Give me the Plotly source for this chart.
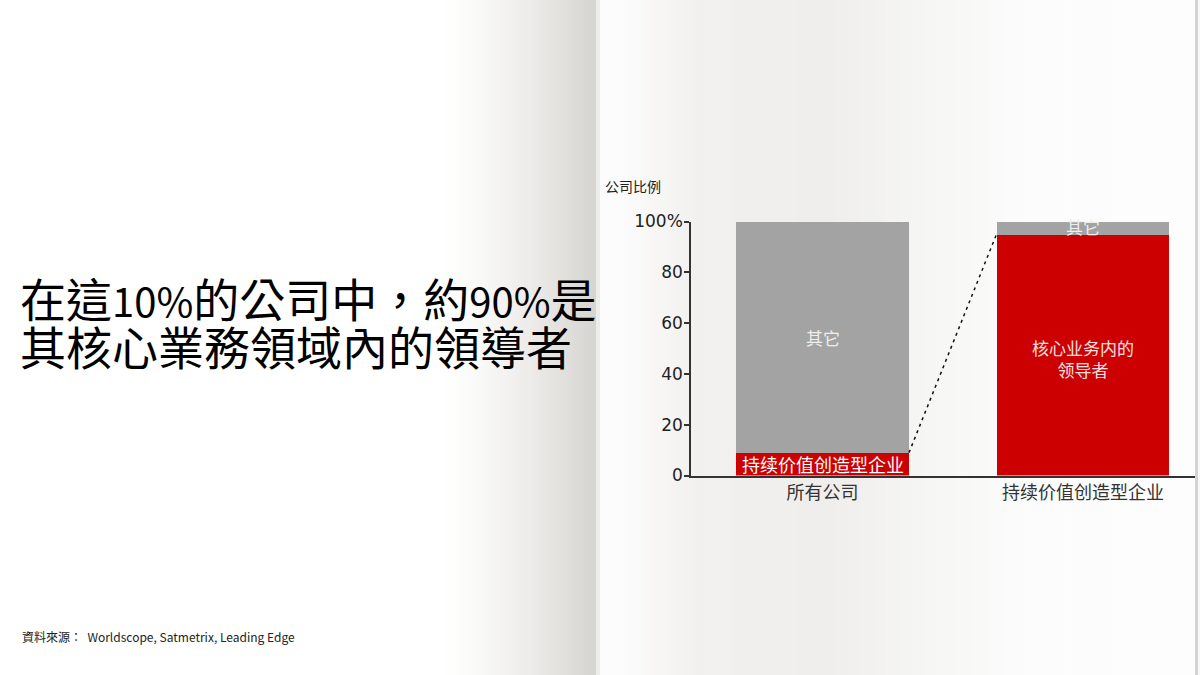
import plotly.graph_objects as go

# ---- data ----
categories = ["所有公司", "持续价值创造型企业"]
leaders = [9, 95]          # 红色部分（持续价值创造型企业 / 核心业务内的领导者）
others = [91, 5]           # 灰色部分（其它）
red_labels = ["持续价值创造型企业", "核心业务内的<br>领导者"]
gray_labels = ["其它", "其它"]
y_ticks = [0, 20, 40, 60, 80, 100]
y_ticktext = ["0", "20", "40", "60", "80", "100%"]

RED = "#cc0000"
GRAY = "#a3a3a3"
BAR_W = 0.664
x_pos = list(range(len(categories)))

W, H = 1200, 675
fig = go.Figure()

fig.add_trace(go.Bar(x=x_pos, y=leaders, width=BAR_W, marker=dict(color=RED, line=dict(width=0)),
                     hoverinfo="skip", showlegend=False))
fig.add_trace(go.Bar(x=x_pos, y=others, width=BAR_W, marker=dict(color=GRAY, line=dict(width=0)),
                     hoverinfo="skip", showlegend=False))

# dashed connector from top of red segment of bar 1 to top of red segment of bar 2
fig.add_trace(go.Scatter(x=[x_pos[0] + BAR_W / 2, x_pos[1] - BAR_W / 2], y=[leaders[0], leaders[1]],
                         mode="lines", line=dict(color="#111111", width=1.5, dash="3px,4px"),
                         hoverinfo="skip", showlegend=False))

# ---- background (book page shading) ----
shapes = []
def lerp(a, b, t):
    return tuple(int(round(a[i] + (b[i] - a[i]) * t)) for i in range(3))

def strip(x0, x1, c):
    shapes.append(dict(type="rect", xref="paper", yref="paper", x0=x0 / W, x1=x1 / W, y0=-0.05, y1=1.05,
                       fillcolor="rgb(%d,%d,%d)" % c, line=dict(width=0), layer="below"))

# left page: white then darken toward fold
start, fold = 440, 596
n = 52
for i in range(n):
    x0 = start + (fold - start) * i / n
    x1 = start + (fold - start) * (i + 1) / n + 0.5
    t = (i + 0.5) / n
    c = lerp((255, 255, 255), (214, 212, 208), t ** 1.4)
    strip(x0, x1, c)

# right page
strip(596, 600, (236, 236, 234))
strip(600, 618, (252, 252, 252))
stops = [(618, (252, 252, 252)), (700, (241, 240, 238)), (830, (239, 238, 236)),
         (930, (246, 246, 245)), (1030, (252, 252, 252)), (1195, (253, 253, 253))]
for k in range(len(stops) - 1):
    xa, ca = stops[k]
    xb, cb = stops[k + 1]
    m = 16
    for j in range(m):
        x0 = xa + (xb - xa) * j / m
        x1 = xa + (xb - xa) * (j + 1) / m + 0.5
        strip(x0, x1, lerp(ca, cb, (j + 0.5) / m))
strip(1195, 1198, (212, 212, 210))
strip(1198, 1200, (248, 248, 248))

# ---- annotations ----
CJK = "Noto Sans CJK SC"
ann = []
ann.append(dict(x=x_pos[0], y=leaders[0] / 2, text=red_labels[0], showarrow=False,
                font=dict(family=CJK, size=18, color="#ffffff")))
ann.append(dict(x=x_pos[0], y=leaders[0] + others[0] / 2, text=gray_labels[0], showarrow=False,
                font=dict(family=CJK, size=17, color="#eeeeee")))
ann.append(dict(x=x_pos[1], y=leaders[1] / 2 - 1.5, text=red_labels[1], showarrow=False,
                font=dict(family=CJK, size=17, color="#f6e0e0")))
ann.append(dict(x=x_pos[1], y=leaders[1] + others[1] / 2 + 0.6, text=gray_labels[1], showarrow=False,
                font=dict(family=CJK, size=17, color="#eeeeee")))

ann.append(dict(xref="paper", yref="paper", x=603 / W, y=1 - 186 / H, xanchor="left", yanchor="middle",
                text="公司比例", showarrow=False,
                font=dict(family=CJK, size=14, color="#222222")))

DIG = "font-size:40px"
ann.append(dict(xref="paper", yref="paper", x=18 / W, y=1 - 297 / H, xanchor="left", yanchor="middle",
                text="在這<span style=\"%s\">10%%</span>的公司中，約<span style=\"%s\">90%%</span>是" % (DIG, DIG),
                showarrow=False,
                font=dict(family="Noto Sans CJK TC", size=46, color="#000000")))
ann.append(dict(xref="paper", yref="paper", x=18 / W, y=1 - 345 / H, xanchor="left", yanchor="middle",
                text="其核心業務領域內的領導者", showarrow=False,
                font=dict(family="Noto Sans CJK TC", size=46, color="#000000")))

ann.append(dict(xref="paper", yref="paper", x=20 / W, y=1 - 636 / H, xanchor="left", yanchor="middle",
                text="資料來源：  Worldscope, Satmetrix, Leading Edge", showarrow=False,
                font=dict(family="Noto Sans CJK TC", size=12, color="#222222")))

# ---- layout ----
x_left, x_right = 691, 1195
y_zero, y_top = 475.5, 221.5
scale = 1083 - 822.5
xr0 = 0 - (822.5 - x_left) / scale
xr1 = 1 + (x_right - 1083) / scale

fig.update_layout(
    width=W, height=H, autosize=False,
    margin=dict(l=0, r=0, t=0, b=0, pad=0, autoexpand=False),
    paper_bgcolor="#ffffff", plot_bgcolor="rgba(0,0,0,0)",
    barmode="stack", bargap=0,
    shapes=shapes, annotations=ann,
    xaxis=dict(domain=[x_left / W, x_right / W], range=[xr0, xr1], automargin=False,
               tickmode="array", tickvals=x_pos, ticktext=categories,
               showgrid=False, zeroline=False, showline=True, linecolor="#333333", linewidth=1.5,
               ticks="", tickfont=dict(family=CJK, size=18, color="#333333"),
               fixedrange=True),
    yaxis=dict(domain=[1 - y_zero / H, 1 - y_top / H], range=[0, 100], automargin=False,
               tickmode="array", tickvals=y_ticks, ticktext=y_ticktext,
               showgrid=False, zeroline=False, showline=True, linecolor="#333333", linewidth=1.5,
               ticks="outside", ticklen=5, tickcolor="#333333", tickwidth=1.5,
               ticklabelstandoff=-2,
               tickfont=dict(family="DejaVu Sans", size=17, color="#222222"),
               fixedrange=True),
    font=dict(family=CJK),
)

fig.write_html("out.html", config={"displayModeBar": False},
               post_script="document.body.style.margin='0';document.body.style.padding='0';"
                           "document.body.style.overflow='hidden';"
                           "document.documentElement.style.overflow='hidden';")
